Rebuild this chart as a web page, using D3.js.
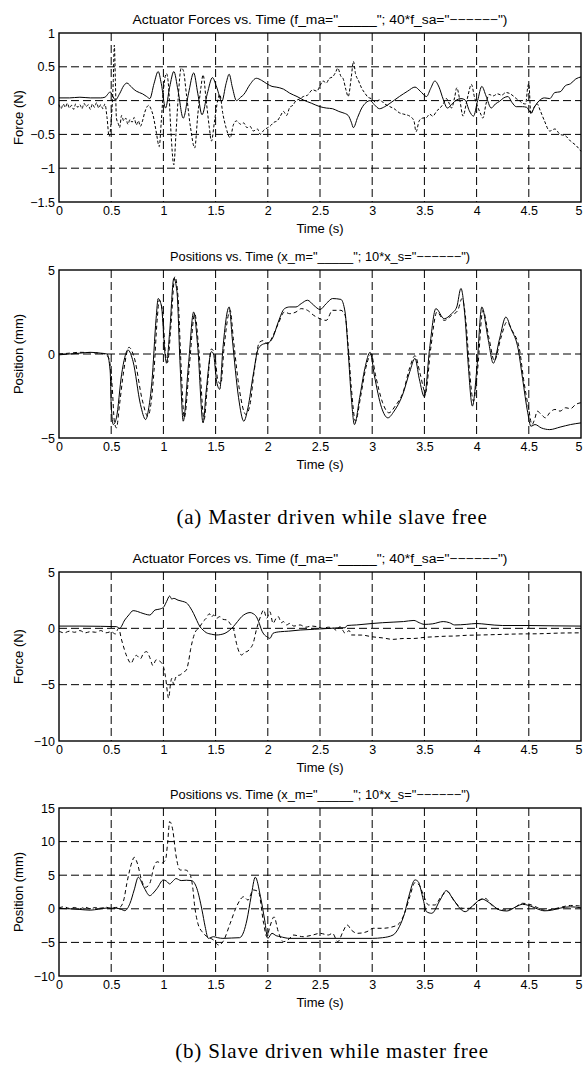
<!DOCTYPE html>
<meta charset="utf-8">
<head>
  <title>Master / slave actuator traces</title>
  <script src="https://cdnjs.cloudflare.com/ajax/libs/d3/7.8.5/d3.min.js"></script>
  <style>
    body { margin: 0; background: #fff; }
    svg text { font-family: "Liberation Sans", Arial, Helvetica, sans-serif; fill: #000; }
    svg text.caption { font-family: "Liberation Serif", "DejaVu Serif", serif; }
  </style>
</head>
<body>
<div id="fig"></div>
<script>
  // ---- data ----
  var timeTicks = [0, 0.5, 1, 1.5, 2, 2.5, 3, 3.5, 4, 4.5, 5];

  // (a) forces
  var fa_master_t = [0,0.1,0.2,0.3,0.4,0.44,0.47,0.49,0.51,0.54,0.58,0.62,0.65,0.7,0.74,0.8,0.84,0.87,0.91,0.95,0.98,1.02,1.06,1.1,1.14,1.19,1.24,1.29,1.33,1.37,1.42,1.47,1.51,1.56,1.6,1.63,1.66,1.7,1.74,1.77,1.83,1.89,1.94,1.99,2.04,2.08,2.15,2.21,2.28,2.34,2.42,2.5,2.56,2.62,2.68,2.72,2.77,2.8,2.82,2.86,2.9,2.94,2.98,3.02,3.07,3.12,3.17,3.26,3.34,3.41,3.46,3.52,3.56,3.6,3.64,3.68,3.72,3.77,3.81,3.85,3.89,3.93,3.97,4.01,4.05,4.09,4.14,4.18,4.22,4.26,4.3,4.34,4.38,4.44,4.48,4.52,4.56,4.6,4.65,4.7,4.75,4.8,4.85,4.9,4.95,5];
  var fa_master = [0.04,0.04,0.05,0.04,0.04,0.05,0.1,0.13,0.08,0.01,0.1,0.22,0.26,0.19,0.14,0.1,0.06,0.03,0.25,0.43,0.25,-0.11,0.2,0.43,0.15,-0.26,0.1,0.41,0.1,-0.21,0.1,0.34,0.2,-0.01,0.25,0.39,0.2,0,0.05,0.09,0.24,0.33,0.3,0.25,0.21,0.2,0.17,0.11,0.06,0.01,-0.04,-0.09,-0.11,-0.12,-0.16,-0.18,-0.22,-0.32,-0.4,-0.25,-0.11,-0.03,0,-0.06,-0.12,-0.09,-0.04,0.06,0.14,0.2,0.14,0.06,0.18,0.29,0.2,0.02,-0.11,-0.04,0.01,0.03,0.01,-0.15,-0.23,0,0.21,0.07,-0.11,-0.05,-0.01,0.04,0.06,-0.03,-0.09,-0.09,-0.1,-0.18,-0.08,0,0.04,0.03,0.12,0.13,0.22,0.25,0.32,0.35];
  var fa_slave_t = [0,0.02,0.04,0.06,0.08,0.1,0.12,0.14,0.16,0.18,0.2,0.22,0.24,0.26,0.28,0.3,0.32,0.34,0.36,0.38,0.4,0.42,0.44,0.46,0.48,0.5,0.52,0.53,0.54,0.55,0.57,0.58,0.6,0.62,0.64,0.66,0.68,0.7,0.72,0.74,0.76,0.78,0.8,0.82,0.84,0.86,0.88,0.9,0.93,0.96,0.98,1,1.03,1.05,1.07,1.1,1.12,1.14,1.17,1.19,1.22,1.26,1.3,1.33,1.36,1.38,1.41,1.44,1.46,1.49,1.52,1.54,1.57,1.6,1.64,1.67,1.7,1.74,1.77,1.8,1.83,1.86,1.9,1.93,1.96,2,2.02,2.06,2.09,2.12,2.15,2.18,2.21,2.24,2.27,2.3,2.34,2.38,2.43,2.47,2.5,2.53,2.56,2.59,2.62,2.65,2.67,2.7,2.72,2.75,2.77,2.8,2.82,2.84,2.87,2.9,2.93,2.96,2.99,3.03,3.07,3.12,3.17,3.21,3.26,3.3,3.36,3.4,3.42,3.45,3.48,3.52,3.55,3.58,3.62,3.65,3.68,3.71,3.74,3.76,3.79,3.81,3.84,3.87,3.9,3.92,3.95,3.98,4.01,4.04,4.06,4.09,4.12,4.16,4.2,4.24,4.28,4.31,4.35,4.38,4.41,4.44,4.47,4.49,4.5,4.52,4.55,4.58,4.61,4.65,4.7,4.75,4.8,4.85,4.9,4.95,5];
  var fa_slave = [-0.06,-0.12,-0.05,-0.1,-0.04,-0.11,-0.07,-0.13,-0.05,-0.1,-0.06,-0.12,-0.04,-0.09,-0.06,-0.13,-0.05,-0.1,-0.03,-0.11,-0.06,-0.12,-0.05,-0.25,-0.53,-0.3,0.3,0.82,0.3,-0.26,-0.35,-0.4,-0.22,-0.3,-0.26,-0.35,-0.28,-0.32,-0.25,-0.36,-0.3,-0.38,-0.3,-0.18,-0.1,-0.07,-0.12,-0.21,-0.45,-0.68,-0.3,0.15,0.4,0.2,-0.4,-0.95,-0.5,0,0.48,0.45,0.1,-0.4,-0.7,-0.2,0.2,0.38,0,-0.4,-0.6,-0.3,0,0.09,-0.2,-0.4,-0.55,-0.36,-0.3,-0.35,-0.33,-0.4,-0.38,-0.45,-0.42,-0.5,-0.44,-0.4,-0.38,-0.32,-0.3,-0.23,-0.16,-0.22,-0.1,-0.07,0,0.02,0.06,0.08,0.16,0.14,0.22,0.29,0.26,0.33,0.35,0.42,0.48,0.36,0.33,0.15,0.06,0.35,0.58,0.4,0.29,0.18,0.11,0.05,0.03,-0.02,0.01,-0.05,-0.09,-0.12,-0.18,-0.2,-0.23,-0.3,-0.46,-0.3,-0.26,-0.25,-0.2,-0.23,-0.15,-0.11,-0.05,0.03,-0.05,-0.11,0.05,0.19,0,-0.23,-0.05,0.09,0.24,0.05,-0.09,-0.2,-0.26,-0.05,0.09,0.07,0.1,0.08,0.12,0.11,0.07,0.03,0,-0.04,-0.05,0.2,0.25,-0.2,-0.1,-0.05,-0.15,-0.3,-0.45,-0.42,-0.5,-0.52,-0.6,-0.66,-0.75];

  // (a) positions
  var xa_master_t = [0,0.1,0.2,0.3,0.4,0.46,0.49,0.5,0.52,0.55,0.6,0.63,0.66,0.71,0.78,0.83,0.86,0.89,0.93,0.95,0.98,1.02,1.03,1.06,1.1,1.13,1.16,1.19,1.24,1.29,1.33,1.38,1.41,1.46,1.48,1.51,1.54,1.57,1.63,1.66,1.72,1.77,1.81,1.86,1.91,1.96,2,2.05,2.1,2.16,2.21,2.27,2.32,2.38,2.44,2.5,2.56,2.62,2.7,2.74,2.77,2.8,2.83,2.88,2.93,2.98,3.02,3.09,3.15,3.21,3.29,3.36,3.41,3.45,3.5,3.55,3.61,3.69,3.76,3.81,3.85,3.89,3.92,3.96,4,4.05,4.11,4.16,4.22,4.28,4.33,4.4,4.44,4.49,4.52,4.56,4.62,4.7,4.8,4.9,5];
  var xa_master = [-0.05,0,0.05,0.1,0.05,0,-1,-3,-4.2,-3.8,-1.2,-0.2,0.24,-0.46,-3,-3.9,-3.2,-1.65,2.1,3.3,2.9,-0.26,-0.55,1.3,4.5,3.7,-0.65,-4,-0.65,2.5,0.33,-4.1,-2.2,0.14,0,-1.65,-2.1,0.33,2.8,0.9,-2.6,-4,-3.2,-1.25,0.33,0.6,0.65,1,1.9,2.7,2.8,2.8,3,3.2,2.9,2.65,3,3.3,3.25,2.5,0.14,-2.6,-4.2,-2.6,-0.85,0.1,-1.25,-3.2,-3.8,-3.4,-2.45,-1.05,-0.26,-1.45,-2.55,0.33,2.7,2.1,2.4,2.8,3.9,2.1,-0.65,-3.1,-1.05,2.8,0.9,-0.55,0.9,2.2,1.5,0.24,-1.45,-3.5,-4.3,-4.2,-4.4,-4.5,-4.35,-4.2,-4.1];
  var xa_slave_t = [0,0.1,0.2,0.3,0.44,0.48,0.51,0.53,0.55,0.58,0.62,0.67,0.72,0.8,0.85,0.88,0.91,0.94,0.96,0.99,1.02,1.04,1.07,1.11,1.14,1.17,1.2,1.25,1.3,1.34,1.39,1.42,1.46,1.49,1.52,1.55,1.58,1.64,1.67,1.73,1.79,1.83,1.87,1.92,1.96,2,2.05,2.1,2.16,2.21,2.27,2.32,2.38,2.44,2.5,2.56,2.62,2.7,2.74,2.77,2.8,2.84,2.89,2.94,2.99,3.03,3.1,3.16,3.22,3.3,3.36,3.41,3.46,3.51,3.56,3.62,3.69,3.76,3.82,3.86,3.9,3.93,3.97,4.01,4.06,4.12,4.17,4.23,4.29,4.34,4.41,4.45,4.5,4.53,4.56,4.58,4.62,4.66,4.7,4.75,4.8,4.85,4.9,4.95,5];
  var xa_slave = [0,0.05,0.1,0.08,0,-0.3,-2,-4,-4.4,-3,-1,0.4,-0.2,-2.8,-3.7,-3,-1,2,3.2,2.6,0,-0.5,1.5,4.6,3.4,-0.8,-3.8,-0.6,2.4,0.2,-3.9,-2,0.3,0,-1.5,-1.8,0.3,2.6,0.9,-2.2,-3.6,-3,-1,0.7,0.8,0.6,1.1,1.8,2.5,2.4,2.5,2.7,2.6,2.3,2.1,2,2.6,2.6,2.3,0.5,-2,-4,-2.5,-0.8,0,-1.2,-2.9,-3.5,-3.1,-2.2,-0.8,-0.1,-1.2,-2.3,0.3,2.5,2,2.3,2.6,3.3,1.8,-0.8,-2.8,-0.9,2.6,0.9,-0.4,0.9,1.9,1.4,0.3,-1.5,-3.3,-4.2,-3.8,-3.4,-3.6,-3.8,-3.5,-3.3,-3.4,-3.2,-3.25,-3,-2.9];

  // (b) forces
  var fb_master_t = [0,0.2,0.4,0.55,0.58,0.63,0.67,0.71,0.75,0.78,0.83,0.87,0.92,0.96,1,1.03,1.06,1.08,1.1,1.14,1.18,1.22,1.26,1.29,1.32,1.35,1.38,1.41,1.46,1.51,1.55,1.59,1.63,1.67,1.71,1.75,1.79,1.83,1.86,1.89,1.92,1.94,1.97,1.99,2.02,2.05,2.08,2.12,2.2,2.31,2.45,2.6,2.7,2.74,2.76,2.85,3,3.1,3.2,3.3,3.4,3.45,3.5,3.58,3.68,3.74,3.79,3.9,4,4.1,4.25,4.5,4.75,5];
  var fb_master = [0.2,0.2,0.18,0.15,0,0.74,1.2,1.57,1.5,1.4,1.25,1.18,1.63,1.7,1.86,2.37,2.87,2.6,2.66,2.5,2.4,2.27,1.8,1.3,0.7,0.15,-0.15,-0.38,-0.52,-0.59,-0.55,-0.44,-0.2,0.15,0.6,1.04,1.3,1.4,1.3,1.04,0.4,-0.15,-0.6,-0.74,-0.89,-0.44,-0.35,-0.3,-0.25,-0.15,-0.08,0,0.05,0.05,0.25,0.3,0.43,0.5,0.55,0.6,0.7,0.5,0.35,0.4,0.6,0.5,0.3,0.35,0.43,0.35,0.25,0.25,0.22,0.2];
  var fb_slave_t = [0,0.05,0.1,0.15,0.2,0.25,0.3,0.35,0.4,0.45,0.5,0.54,0.57,0.6,0.65,0.69,0.72,0.74,0.78,0.81,0.84,0.87,0.9,0.93,0.97,1,1.02,1.05,1.07,1.08,1.1,1.11,1.13,1.16,1.19,1.22,1.24,1.26,1.3,1.35,1.38,1.41,1.44,1.46,1.48,1.51,1.54,1.57,1.61,1.64,1.67,1.7,1.73,1.75,1.78,1.8,1.83,1.86,1.89,1.93,1.96,1.99,2.02,2.05,2.08,2.1,2.13,2.15,2.18,2.21,2.25,2.31,2.36,2.42,2.47,2.53,2.58,2.63,2.66,2.69,2.72,2.74,2.78,2.8,2.9,3,3.1,3.2,3.3,3.4,3.5,3.6,3.7,3.8,3.9,4,4.2,4.4,4.6,4.8,5];
  var fb_slave = [-0.25,-0.4,-0.25,-0.35,-0.2,-0.4,-0.3,-0.35,-0.2,-0.4,-0.3,-0.5,0,-1.04,-2.5,-3.1,-2.6,-2.4,-2.7,-2.2,-2.07,-2.6,-3.3,-2.8,-2.95,-3.4,-4.29,-6.2,-4.8,-4.44,-5,-4.59,-4.2,-4.14,-3.9,-3.7,-3,-1.9,-0.44,0.15,0.6,0.89,1.3,1,1.18,0.9,1.04,0.8,0.74,0.4,0,-1.33,-2.2,-2.37,-2.1,-2.07,-1.8,-1.33,-0.15,1.04,1.63,0.89,1.48,0.44,0.9,1.04,0.5,0.6,0.3,0.44,0.2,0.3,0.1,0.2,0.15,0,0.1,0,-0.2,0.15,-0.2,-0.44,-0.2,-0.59,-0.6,-0.75,-0.85,-0.98,-0.9,-0.9,-0.8,-0.75,-0.7,-0.68,-0.62,-0.6,-0.55,-0.5,-0.48,-0.42,-0.4];

  // (b) positions
  var xb_master_t = [0,0.1,0.2,0.3,0.38,0.45,0.55,0.6,0.63,0.68,0.72,0.76,0.81,0.87,0.9,0.94,1,1.03,1.06,1.09,1.12,1.17,1.22,1.27,1.32,1.37,1.4,1.43,1.48,1.52,1.57,1.65,1.73,1.77,1.8,1.84,1.88,1.93,1.97,2,2.04,2.08,2.12,2.21,2.5,3,3.1,3.2,3.26,3.31,3.35,3.41,3.44,3.49,3.52,3.57,3.65,3.71,3.77,3.84,3.89,3.97,4.05,4.13,4.22,4.29,4.38,4.44,4.5,4.58,4.65,4.72,4.8,4.9,5];
  var xb_master = [0.05,0,-0.1,-0.2,-0.05,0.1,0.08,-0.1,-0.28,0.81,2.8,4.7,3.3,1.95,2.3,3.05,4.3,4.1,3.7,4.1,4.5,4.2,4.25,4.2,3.05,-0.2,-2.66,-4.4,-4.15,-4.3,-4.4,-4.35,-4.3,-3.4,-1.67,1.8,4.7,1.8,-1.67,-4.4,-3.65,-4,-4.15,-4.4,-4.4,-4.4,-4.3,-3.9,-2.66,-0.67,1.8,4.3,4.05,1.3,-0.43,-0.67,1.3,2.7,1.56,0.07,-0.43,0.57,1.46,0.81,-0.18,-0.33,0.32,0.67,0.5,0,-0.3,-0.2,0.1,0.3,0.15];
  var xb_slave_t = [0,0.05,0.1,0.15,0.2,0.25,0.3,0.35,0.4,0.45,0.49,0.54,0.58,0.62,0.65,0.7,0.72,0.75,0.79,0.83,0.87,0.91,0.94,0.98,1.02,1.04,1.06,1.09,1.12,1.16,1.21,1.25,1.28,1.3,1.33,1.37,1.41,1.48,1.53,1.57,1.64,1.7,1.77,1.81,1.86,1.91,1.96,1.99,2.02,2.06,2.1,2.15,2.21,2.24,2.34,2.43,2.5,2.58,2.62,2.67,2.72,2.76,2.8,2.86,2.95,3.01,3.1,3.2,3.26,3.31,3.36,3.41,3.45,3.49,3.54,3.6,3.66,3.72,3.79,3.87,3.93,4.01,4.08,4.16,4.25,4.35,4.44,4.5,4.58,4.65,4.72,4.8,4.9,5];
  var xb_slave = [0.15,0.3,0.05,0.2,0,0.25,0,0.2,0.1,0.25,0.07,0.2,0.22,1.3,3.8,7,7.66,6.8,4.3,3.2,3.8,6.27,7,6.8,7.26,9.74,12.97,11.7,8,5.77,5.77,5.28,3.3,0.35,-2.16,-3.4,-4.05,-4.64,-5.4,-4.9,-2.16,0.32,1.8,1.3,2.8,2.55,-2.16,-4.15,-2.66,-1.2,-3.4,-4.9,-4.4,-3.9,-4.15,-3.9,-3.65,-3.9,-3.65,-4.9,-3.4,-2.4,-3.15,-3.65,-3.4,-2.9,-2.9,-2.66,-2.16,-0.67,1.8,3.9,3.54,2.05,0.57,0.57,1.8,2.55,1.06,0.07,0.07,1.06,1.56,0.32,-0.18,0.07,0.82,0.7,0.2,-0.2,-0.1,0.2,0.5,0.4];

  var forceATicks = [-1.5, -1, -0.5, 0, 0.5, 1];
  var posATicks = [-5, 0, 5];
  var forceBTicks = [-10, -5, 0, 5];
  var posBTicks = [-10, -5, 0, 5, 10, 15];

  var forceTitle = 'Actuator Forces vs. Time (f_ma="_____"; 40*f_sa="\u2212\u2212\u2212\u2212\u2212\u2212")';
  var posTitle = 'Positions vs. Time (x_m="_____"; 10*x_s="\u2212\u2212\u2212\u2212\u2212\u2212")';

  // ---- drawing ----
  var WIDTH = 583, HEIGHT = 1069;
  var X0 = 59, X1 = 581;

  var svg = d3.select('#fig').append('svg')
    .attr('width', WIDTH)
    .attr('height', HEIGHT);

  svg.append('rect').attr('width', WIDTH).attr('height', HEIGHT).attr('fill', 'white');

  var x = d3.scaleLinear().domain([0, 5]).range([X0, X1]);

  var panels = [
    { top: 33, bottom: 202, ticks: forceATicks, title: forceTitle, titleLen: 375, ylabel: 'Force (N)',
      series: [[fa_master_t, fa_master, null], [fa_slave_t, fa_slave, '3,2']] },
    { top: 270, bottom: 438, ticks: posATicks, title: posTitle, titleLen: 300, ylabel: 'Position (mm)',
      series: [[xa_master_t, xa_master, null], [xa_slave_t, xa_slave, '4,3']] },
    { top: 572, bottom: 741, ticks: forceBTicks, title: forceTitle, titleLen: 375, ylabel: 'Force (N)',
      series: [[fb_master_t, fb_master, null], [fb_slave_t, fb_slave, '4,3']] },
    { top: 808, bottom: 976, ticks: posBTicks, title: posTitle, titleLen: 300, ylabel: 'Position (mm)',
      series: [[xb_master_t, xb_master, null], [xb_slave_t, xb_slave, '4,3']] }
  ];

  panels.forEach(function(p) {
    var y = d3.scaleLinear()
      .domain([p.ticks[0], p.ticks[p.ticks.length - 1]])
      .range([p.bottom, p.top]);
    var g = svg.append('g');

    // dashed grid
    g.selectAll('.vgrid').data(timeTicks.slice(1, -1)).enter().append('line')
      .attr('x1', function(d) { return x(d); })
      .attr('x2', function(d) { return x(d); })
      .attr('y1', p.top).attr('y2', p.bottom)
      .attr('stroke', 'black').attr('stroke-width', 1)
      .attr('stroke-dasharray', '8,4');
    g.selectAll('.hgrid').data(p.ticks.slice(1, -1)).enter().append('line')
      .attr('x1', X0).attr('x2', X1)
      .attr('y1', function(d) { return y(d); })
      .attr('y2', function(d) { return y(d); })
      .attr('stroke', 'black').attr('stroke-width', 1)
      .attr('stroke-dasharray', '8,4');

    // traces
    p.series.forEach(function(s) {
      var pts = d3.zip(s[0], s[1]);
      var line = d3.line()
        .curve(d3.curveMonotoneX)
        .x(function(d) { return x(d[0]); })
        .y(function(d) { return y(d[1]); });
      g.append('path')
        .attr('d', line(pts))
        .attr('fill', 'none')
        .attr('stroke', 'black')
        .attr('stroke-width', 1)
        .attr('stroke-dasharray', s[2]);
    });

    // axes
    var xAxis = g.append('g')
      .attr('transform', 'translate(0,' + p.bottom + ')')
      .call(d3.axisBottom(x).tickValues(timeTicks).tickSize(0).tickPadding(4)
        .tickFormat(function(d) { return String(d); }));
    var yAxis = g.append('g')
      .attr('transform', 'translate(' + X0 + ',0)')
      .call(d3.axisLeft(y).tickValues(p.ticks).tickSize(0).tickPadding(4)
        .tickFormat(d3.format('')));
    [xAxis, yAxis].forEach(function(a) {
      a.select('.domain').remove();
      a.selectAll('text').attr('font-size', 12.5);
    });
    // last time label sits at the page edge; keep it just inside
    xAxis.selectAll('.tick text').filter(function(d) { return d === 5; })
      .attr('text-anchor', 'end').attr('dx', 1);

    g.append('rect')
      .attr('x', X0).attr('y', p.top)
      .attr('width', X1 - X0).attr('height', p.bottom - p.top)
      .attr('fill', 'none').attr('stroke', 'black').attr('stroke-width', 1.4);

    // labels
    g.append('text')
      .attr('x', (X0 + X1) / 2).attr('y', p.top - 9)
      .attr('text-anchor', 'middle').attr('font-size', 12.5)
      .attr('textLength', p.titleLen).attr('lengthAdjust', 'spacingAndGlyphs')
      .text(p.title);
    g.append('text')
      .attr('x', (X0 + X1) / 2).attr('y', p.bottom + 31)
      .attr('text-anchor', 'middle').attr('font-size', 13)
      .text('Time (s)');
    g.append('text')
      .attr('transform', 'translate(23,' + ((p.top + p.bottom) / 2) + ') rotate(-90)')
      .attr('text-anchor', 'middle').attr('font-size', 13)
      .text(p.ylabel);
  });

  svg.append('text').attr('class', 'caption')
    .attr('x', 332).attr('y', 524)
    .attr('text-anchor', 'middle').attr('font-size', 21)
    .attr('letter-spacing', 0.8)
    .text('(a) Master driven while slave free');
  svg.append('text').attr('class', 'caption')
    .attr('x', 332).attr('y', 1058)
    .attr('text-anchor', 'middle').attr('font-size', 21)
    .attr('letter-spacing', 0.8)
    .text('(b) Slave driven while master free');
</script>
</body>
